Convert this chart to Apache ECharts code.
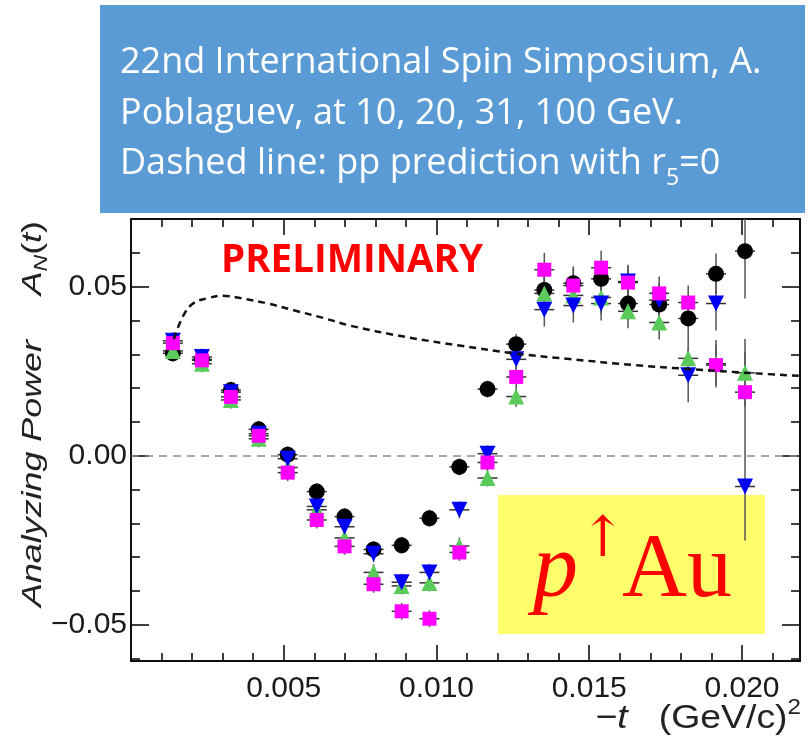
<!DOCTYPE html>
<html>
<head>
<meta charset="utf-8">
<script src="https://cdn.jsdelivr.net/npm/echarts@6/dist/echarts.min.js"></script>
<style>
html, body { margin: 0; padding: 0; background: #fff; }
#chart { width: 810px; height: 743px; }
</style>
</head>
<body>
<div id="chart"></div>
<script>
// -t in (GeV/c)^2
var tValues = [0.00137, 0.00232, 0.00327, 0.00418, 0.00513, 0.00608, 0.00699, 0.00794, 0.00886, 0.00977, 0.01075,
  0.01167, 0.01261, 0.01353, 0.01448, 0.01539, 0.01627, 0.01729, 0.01824, 0.01915, 0.0201]

// analyzing power, one array per marker set
var blackA = [0.0303, 0.0285, 0.0194, 0.0078, 0.0003, -0.0106, -0.018, -0.0277, -0.0265, -0.0185, -0.0033,
  0.0197, 0.033, 0.049, 0.051, 0.0523, 0.045, 0.0447, 0.0406, 0.0538, 0.0605]
var blueA = [0.034, 0.0292, 0.0188, 0.0065, -0.0009, -0.015, -0.021, -0.029, -0.0374, -0.0345, -0.016,
  0.0006, 0.0285, 0.0432, 0.0444, 0.045, 0.0515, 0.046, 0.0238, 0.045, -0.0091]
var greenA = [0.031, 0.0272, 0.0165, 0.005, -0.0035, -0.016, -0.0243, -0.0345, -0.0385, -0.0376, -0.0267,
  -0.0066, 0.0175, 0.048, 0.0474, 0.0468, 0.0427, 0.0394, 0.0288, 0.0272, 0.0245]
var magentaA = [0.0333, 0.0282, 0.0174, 0.0059, -0.005, -0.019, -0.0268, -0.038, -0.046, -0.0482, -0.0286,
  -0.002, 0.0233, 0.055, 0.0503, 0.0556, 0.0512, 0.048, 0.0453, 0.0268, 0.0188]

var blackErr = [0.0025, 0.0025, 0.0025, 0.0025, 0.0025, 0.0025, 0.0025, 0.0025, 0.0025, 0.0025, 0.0025,
  0.0025, 0.003, 0.005, 0.005, 0.005, 0.005, 0.005, 0.006, 0.006, 0.014]
var blueErr = [0.0025, 0.0025, 0.0025, 0.0025, 0.0025, 0.0025, 0.0025, 0.0025, 0.0025, 0.0025, 0.0025,
  0.0025, 0.003, 0.005, 0.005, 0.005, 0.005, 0.005, 0.008, 0.008, 0.016]
var greenErr = [0.0025, 0.0025, 0.0025, 0.0025, 0.0025, 0.0025, 0.0025, 0.0025, 0.0025, 0.0025, 0.0025,
  0.0025, 0.003, 0.005, 0.005, 0.005, 0.005, 0.005, 0.006, 0.007, 0.010]
var magentaErr = [0.0025, 0.0025, 0.0025, 0.0025, 0.0025, 0.0025, 0.0025, 0.0025, 0.0025, 0.0025, 0.0025,
  0.0025, 0.003, 0.005, 0.005, 0.005, 0.005, 0.005, 0.005, 0.006, 0.012]

// pp prediction with r5 = 0 (dashed)
var predT = [0.0014, 0.00173, 0.00206, 0.00252, 0.00301, 0.00359, 0.00448, 0.00533, 0.00631, 0.00716, 0.009,
  0.01075, 0.0126, 0.01435, 0.01647, 0.01833, 0.02036, 0.0219]
var predA = [0.0345, 0.0417, 0.0452, 0.0466, 0.0473, 0.0466, 0.045, 0.043, 0.0407, 0.0385, 0.0351,
  0.0326, 0.0302, 0.0286, 0.0268, 0.0256, 0.0244, 0.0236]

var xMajorTicks = [0.005, 0.010, 0.015, 0.020]
var xMinorTicks = [0.001, 0.002, 0.003, 0.004, 0.006, 0.007, 0.008, 0.009, 0.011, 0.012, 0.013, 0.014,
  0.016, 0.017, 0.018, 0.019, 0.021]
var yMajorTicks = [-0.05, 0, 0.05]
var yMinorTicks = [-0.06, -0.04, -0.03, -0.02, -0.01, 0.01, 0.02, 0.03, 0.04, 0.06]

var xMin = 0, xMax = 0.0219
var yMin = -0.0607, yMax = 0.070

var chart = echarts.init(document.getElementById('chart'))

function pairs(xs, ys, es) {
  return xs.map(function (x, i) {
    return es ? [x, ys[i], es[i]] : [x, ys[i]]
  })
}

function errorBar(params, api) {
  var t = api.value(0)
  var a = api.value(1)
  var e = api.value(2)
  var lo = api.coord([t, Math.max(a - e, yMin)])
  var hi = api.coord([t, Math.min(a + e, yMax)])
  var c = api.coord([t, a])
  return {
    type: 'group',
    children: [
      { type: 'line', shape: { x1: lo[0], y1: lo[1], x2: hi[0], y2: hi[1] }, style: { stroke: '#555', lineWidth: 1.5 } },
      { type: 'line', shape: { x1: c[0] - 10, y1: c[1], x2: c[0] + 10, y2: c[1] }, style: { stroke: '#333', lineWidth: 1.5 } }
    ]
  }
}

function xAxisDef(pos, ticks, len, labels) {
  return {
    type: 'value', position: pos, min: xMin, max: xMax,
    axisLine: { show: true, onZero: false, lineStyle: { color: '#000', width: 1.5 } },
    axisTick: { show: true, inside: true, length: len, customValues: ticks, lineStyle: { color: '#000', width: 1.5 } },
    axisLabel: labels ? {
      show: true, customValues: ticks, margin: 13, fontSize: 30, color: '#1a1a1a',
      fontFamily: 'Liberation Sans', formatter: function (v) { return v.toFixed(3) }
    } : { show: false },
    splitLine: { show: false }
  }
}

function yAxisDef(pos, ticks, len, labels) {
  return {
    type: 'value', position: pos, min: yMin, max: yMax,
    axisLine: { show: true, onZero: false, lineStyle: { color: '#000', width: 1.5 } },
    axisTick: { show: true, inside: true, length: len, customValues: ticks, lineStyle: { color: '#000', width: 1.5 } },
    axisLabel: labels ? {
      show: true, customValues: ticks, margin: 4, fontSize: 30, color: '#1a1a1a',
      fontFamily: 'Liberation Sans',
      formatter: function (v) {
        if (Math.abs(v) < 1e-9) return '0.00'
        return (v < 0 ? '\u2212' : '') + Math.abs(v).toFixed(2)
      }
    } : { show: false },
    splitLine: { show: false }
  }
}

var option = {
  animation: false,
  grid: { left: 131, right: 10, top: 219, bottom: 82, containLabel: false },
  xAxis: [
    xAxisDef('bottom', xMajorTicks, 16, true),
    xAxisDef('bottom', xMinorTicks, 8, false),
    xAxisDef('top', xMajorTicks, 16, false),
    xAxisDef('top', xMinorTicks, 8, false)
  ],
  yAxis: [
    yAxisDef('left', yMajorTicks, 18, true),
    yAxisDef('left', yMinorTicks, 9, false),
    yAxisDef('right', yMajorTicks, 18, false),
    yAxisDef('right', yMinorTicks, 9, false)
  ],
  graphic: [
    { type: 'rect', shape: { x: 100, y: 5, width: 705, height: 208 }, style: { fill: '#5B9BD5' }, z: 10 },
    { type: 'text', x: 120, y: 63, z: 11, style: { text: '22nd International Spin Simposium, A.', fill: '#fff', font: '36px "Open Sans"', verticalAlign: 'middle' } },
    { type: 'text', x: 120, y: 114, z: 11, style: { text: 'Poblaguev, at 10, 20, 31, 100 GeV.', fill: '#fff', font: '36px "Open Sans"', verticalAlign: 'middle' } },
    {
      type: 'text', x: 120, y: 164, z: 11,
      style: {
        text: '{n|Dashed line: pp prediction with r}{s|5}{n|=0}', verticalAlign: 'middle',
        rich: {
          n: { fill: '#fff', fontFamily: 'Open Sans', fontSize: 36, lineHeight: 46 },
          s: { fill: '#fff', fontFamily: 'Open Sans', fontSize: 23, padding: [28, 0, 0, 0] }
        }
      }
    },
    { type: 'text', x: 221, y: 261, z: 1, style: { text: 'PRELIMINARY', fill: '#FF0000', font: 'bold 38.5px "Open Sans"', verticalAlign: 'middle' } },
    { type: 'rect', shape: { x: 498, y: 495, width: 267, height: 139 }, style: { fill: '#FFFF6B' }, z: 0 },
    { type: 'text', x: 533, y: 572, z: 1, style: { text: 'p', fill: '#FF0000', font: 'italic 90px "Liberation Serif"', verticalAlign: 'middle' } },
    { type: 'text', x: 603, y: 541, z: 1, style: { text: '\u2191', fill: '#FF0000', font: '56px "DejaVu Serif"', align: 'center', verticalAlign: 'middle' } },
    { type: 'text', x: 622, y: 572, z: 1, style: { text: 'Au', fill: '#FF0000', font: '90px "Liberation Serif"', verticalAlign: 'middle' } },
    {
      type: 'text', x: 33, y: 607, rotation: Math.PI / 2, scaleX: 1.28, z: 1,
      style: { text: 'Analyzing Power', fill: '#222', font: 'italic 28px "Liberation Sans"', align: 'left', verticalAlign: 'middle' }
    },
    {
      type: 'text', x: 33, y: 221, rotation: Math.PI / 2, scaleX: 1.28, z: 1,
      style: {
        text: '{i|A}{s|N}{n|(}{i|t}{n|)}', align: 'right', verticalAlign: 'middle',
        rich: {
          i: { fill: '#222', fontFamily: 'Liberation Sans', fontStyle: 'italic', fontSize: 28, lineHeight: 34 },
          n: { fill: '#222', fontFamily: 'Liberation Sans', fontSize: 28, lineHeight: 34 },
          s: { fill: '#222', fontFamily: 'Liberation Sans', fontStyle: 'italic', fontSize: 18, padding: [18, 0, 0, 0] }
        }
      }
    },
    {
      type: 'text', x: 801, y: 719, scaleX: 1.1, z: 1,
      style: {
        text: '{i|\u2212t}{n|   (GeV/c)}{p|2}', align: 'right', verticalAlign: 'middle',
        rich: {
          i: { fill: '#222', fontFamily: 'Liberation Sans', fontStyle: 'italic', fontSize: 34, lineHeight: 40 },
          n: { fill: '#222', fontFamily: 'Liberation Sans', fontSize: 34, lineHeight: 40 },
          p: { fill: '#222', fontFamily: 'Liberation Sans', fontSize: 22, padding: [0, 0, 22, 0] }
        }
      }
    }
  ],
  series: [
    { type: 'custom', name: 'black err', renderItem: errorBar, data: pairs(tValues, blackA, blackErr), encode: { x: 0, y: 1 }, z: 2 },
    { type: 'custom', name: 'green err', renderItem: errorBar, data: pairs(tValues, greenA, greenErr), encode: { x: 0, y: 1 }, z: 2 },
    { type: 'custom', name: 'blue err', renderItem: errorBar, data: pairs(tValues, blueA, blueErr), encode: { x: 0, y: 1 }, z: 2 },
    { type: 'custom', name: 'magenta err', renderItem: errorBar, data: pairs(tValues, magentaA, magentaErr), encode: { x: 0, y: 1 }, z: 2 },
    {
      type: 'scatter', name: 'black', data: pairs(tValues, blackA), symbol: 'circle', symbolSize: 16,
      itemStyle: { color: '#000', opacity: 1 }, z: 3,
      markLine: {
        silent: true, symbol: 'none', label: { show: false },
        lineStyle: { color: '#8a8a8a', width: 1.5, type: [8, 6] },
        data: [{ yAxis: 0 }]
      }
    },
    { type: 'scatter', name: 'green', data: pairs(tValues, greenA), symbol: 'triangle', symbolSize: 16, itemStyle: { color: '#5ACB5A', opacity: 1 }, z: 4 },
    { type: 'scatter', name: 'blue', data: pairs(tValues, blueA), symbol: 'triangle', symbolRotate: 180, symbolSize: 16, itemStyle: { color: '#0000F5', opacity: 1 }, z: 5 },
    { type: 'scatter', name: 'magenta', data: pairs(tValues, magentaA), symbol: 'rect', symbolSize: 14, itemStyle: { color: '#FF00FF', opacity: 1 }, z: 6 },
    {
      type: 'line', name: 'pp prediction', data: pairs(predT, predA), smooth: 0.4, showSymbol: false,
      lineStyle: { color: '#111', width: 2.5, type: [7, 5] }, z: 7
    }
  ]
}

chart.setOption(option)
</script>
</body>
</html>
